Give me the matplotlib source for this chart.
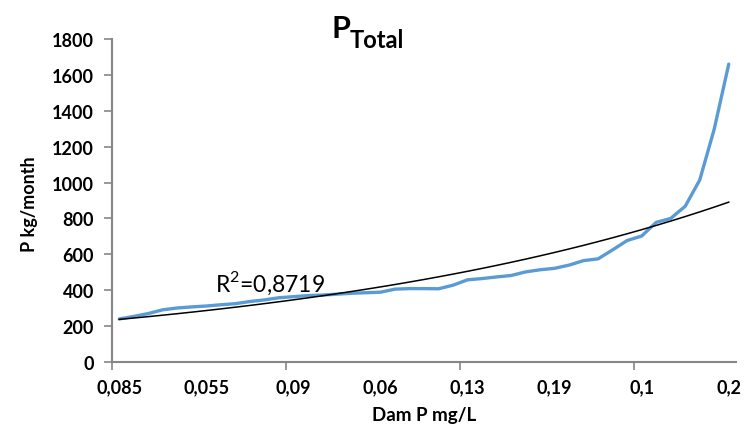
import numpy as np
import matplotlib
matplotlib.use("Agg")
import matplotlib.pyplot as plt

# -------- Data --------
p_total = [240, 254, 270, 291, 301, 307, 312, 319, 325, 337,
           346, 358, 364, 370, 373, 378, 383, 386, 389, 406,
           409, 409, 408, 428, 458, 465, 474, 482, 502, 514,
           522, 540, 565, 575, 625, 677, 702, 778, 800, 868,
           1014, 1298, 1660]
tick_labels = ["0,085", "0,055", "0,09", "0,06", "0,13", "0,19", "0,1", "0,2"]
label_step = 6
mark_step = 12
r2_text = "R$^2$=0,8719"

plt.rcParams['font.family'] = ['Lato', 'DejaVu Sans']
plt.rcParams['mathtext.fontset'] = 'custom'
plt.rcParams['mathtext.rm'] = 'Lato'

n = len(p_total)
x = np.arange(n)
y = np.array(p_total, dtype=float)

# exponential trendline, fitted like Excel does (ln y on x)
b, ln_a = np.polyfit(x + 1, np.log(y), 1)
trend = np.exp(ln_a) * np.exp(b * (x + 1))

fig = plt.figure(figsize=(7.47, 4.39), dpi=100)
ax = fig.add_axes([112 / 747, 1 - 363 / 439, 624 / 747, 323 / 439])

ax.plot(x, y, color='#5B9BD5', lw=2.4, solid_capstyle='round', zorder=3)
ax.plot(x, trend, color='black', lw=1.1, zorder=4)

ax.set_xlim(-0.5, n - 0.5)
ax.set_ylim(0, 1800)
ax.set_yticks(np.arange(0, 1801, 200))

major = np.arange(0, n, label_step)
ax.set_xticks(major)
ax.set_xticklabels(tick_labels[:len(major)])
ax.set_xticks(np.arange(-0.5, n, mark_step), minor=True)

gray = '#868686'
for s in ['top', 'right']:
    ax.spines[s].set_visible(False)
for s in ['left', 'bottom']:
    ax.spines[s].set_color(gray)
    ax.spines[s].set_linewidth(1.5)

ax.tick_params(axis='y', which='major', length=6, width=1.2, color=gray,
               labelsize=13, pad=7)
ax.tick_params(axis='x', which='major', length=0, labelsize=13, pad=12)
ax.tick_params(axis='x', which='minor', length=6, width=1.2, color=gray)
for lbl in ax.get_xticklabels() + ax.get_yticklabels():
    lbl.set_fontweight('bold')

ax.text(10.4, 395, r2_text, fontsize=16.5, ha='center', va='baseline', zorder=5)

fig.text(30 / 747, 1 - 204 / 439, "P kg/month", rotation=90, ha='center',
         va='center', fontsize=13, fontweight='bold')
fig.text(424 / 747, 1 - 415 / 439, "Dam P mg/L", ha='center', va='center',
         fontsize=13.5, fontweight='bold')

# title: P with "Total" as subscript
fig.text(350 / 747, 1 - 38 / 439, "P", ha='right', va='baseline',
         fontsize=22, fontweight='bold')
fig.text(350 / 747, 1 - 48 / 439, "Total", ha='left', va='baseline',
         fontsize=17, fontweight='bold')

fig.savefig("out.png", dpi=100)
